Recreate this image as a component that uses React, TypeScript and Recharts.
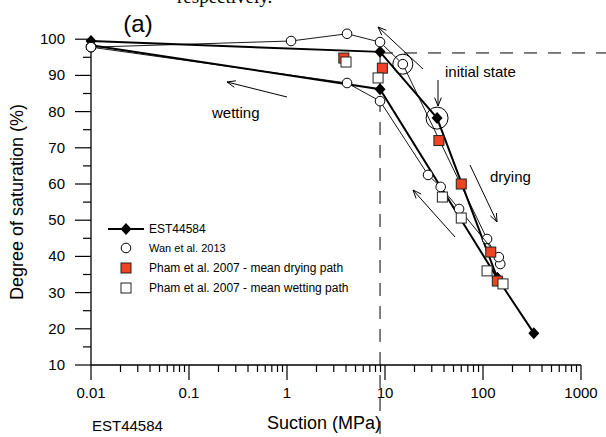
import React from 'react';
import { ComposedChart, Scatter, XAxis, YAxis, ReferenceLine, ReferenceDot } from 'recharts';

const W = 606;
const H = 437;
const FONT = '"Liberation Sans", Arial, sans-serif';
const RED = '#ee4422';

// suction (MPa) and degree of saturation (%)
const estDrySuction = [0.01, 8.9, 34, 140, 330];
const estDrySat = [99.5, 96.5, 78.2, 34, 18.8];
const estWetSuction = [140, 8.9, 0.01];
const estWetSat = [34, 86.2, 98.3];

const wanASuction = [0.01, 1.1, 4.1, 8.9, 15.2, 110, 150];
const wanASat = [97.8, 99.5, 101.5, 99.2, 93.1, 44.8, 37.9];
const wanBSuction = [0.01, 4.1, 8.9, 27.5, 37, 57, 145];
const wanBSat = [97.8, 87.9, 82.9, 62.5, 59.2, 53.1, 39.8];

const phamDrySuction = [3.8, 9.4, 35.5, 60, 120, 140];
const phamDrySat = [94.8, 92, 72, 60, 41.2, 33.2];
const phamWetSuction = [4.0, 8.5, 38.5, 60, 110, 160];
const phamWetSat = [93.7, 89.3, 56.4, 50.6, 36, 32.4];

const xMajor = [0.01, 0.1, 1, 10, 100, 1000];
const xLabels = ['0.01', '0.1', '1', '10', '100', '1000'];
const xMinor = [2, 3, 4, 5, 6, 7, 8, 9];
const yMajor = [10, 20, 30, 40, 50, 60, 70, 80, 90, 100];
const yMinor = [15, 25, 35, 45, 55, 65, 75, 85, 95];

const zip = (xs: number[], ys: number[]) => xs.map((x, i) => ({ x, y: ys[i] }));

const xTicks = xMajor
  .slice(0, -1)
  .flatMap((d) => [d, ...xMinor.map((m) => +(d * m).toPrecision(3))])
  .concat([1000]);
const yTicks = [...yMajor, ...yMinor].sort((a, b) => a - b);

const Diamond = ({ cx, cy }: any) => (
  <polygon points={`${cx},${cy - 6} ${cx + 5.5},${cy} ${cx},${cy + 6} ${cx - 5.5},${cy}`} fill="#000" />
);
const OpenCircle = ({ cx, cy }: any) => (
  <circle cx={cx} cy={cy} r={4.8} fill="#fff" stroke="#000" strokeWidth={1} />
);
const Square = ({ cx, cy, color }: any) => (
  <rect x={cx - 5} y={cy - 5} width={10} height={10} fill={color} stroke="#222" strokeWidth={1} />
);

const XTick = ({ x, y, payload }: any) => {
  const v = payload.value;
  const i = xMajor.findIndex((m) => Math.abs(m - v) / m < 1e-6);
  return (
    <g>
      <line x1={x} x2={x} y1={y} y2={y + (i >= 0 ? 15 : 7)} stroke="#000" strokeWidth={1.2} />
      {i >= 0 && (
        <text x={x} y={y + 33} textAnchor="middle" fontSize={15} fontFamily={FONT} fill="#000">
          {xLabels[i]}
        </text>
      )}
    </g>
  );
};

const YTick = ({ x, y, payload }: any) => {
  const major = yMajor.includes(payload.value);
  return (
    <g>
      <line x1={x - (major ? 16 : 8)} x2={x} y1={y} y2={y} stroke="#000" strokeWidth={1.2} />
      {major && (
        <text x={x - 26} y={y + 5} textAnchor="end" fontSize={15} fontFamily={FONT} fill="#000">
          {payload.value}
        </text>
      )}
    </g>
  );
};

const Arrow = ({ x1, y1, x2, y2 }: { x1: number; y1: number; x2: number; y2: number }) => {
  const a = Math.atan2(y2 - y1, x2 - x1);
  const L = 9;
  const s = 0.38;
  const p1 = `${x2 - L * Math.cos(a - s)},${y2 - L * Math.sin(a - s)}`;
  const p2 = `${x2 - L * Math.cos(a + s)},${y2 - L * Math.sin(a + s)}`;
  return (
    <g stroke="#000" strokeWidth={1} fill="none">
      <line x1={x1} y1={y1} x2={x2} y2={y2} />
      <polyline points={`${p1} ${x2},${y2} ${p2}`} />
    </g>
  );
};

export default function App() {
  const legendY = [229, 248, 268, 288];
  return (
    <div style={{ position: 'absolute', left: 0, top: 0, width: W, height: H, background: '#fff' }}>
      <ComposedChart width={W} height={H} margin={{ top: 3, right: 25, bottom: 0, left: 0 }}>
        <XAxis
          dataKey="x"
          type="number"
          scale="log"
          domain={[0.01, 1000]}
          ticks={xTicks}
          interval={0}
          tick={XTick}
          tickLine={false}
          tickSize={0}
          tickMargin={0}
          height={72}
          axisLine={{ stroke: '#000', strokeWidth: 1.3 }}
        />
        <YAxis
          dataKey="y"
          type="number"
          domain={[10, 110]}
          ticks={yTicks}
          interval={0}
          tick={YTick}
          tickLine={false}
          tickSize={0}
          tickMargin={0}
          axisLine={false}
          width={91}
        />
        <ReferenceLine
          segment={[{ x: 0.01, y: 10 }, { x: 0.01, y: 100 }]}
          stroke="#000"
          strokeWidth={1.3}
          ifOverflow="visible"
        />
        <ReferenceLine
          segment={[{ x: 8.9, y: 96.2 }, { x: 2000, y: 96.2 }]}
          stroke="#000"
          strokeWidth={1}
          strokeDasharray="13 11"
          ifOverflow="visible"
        />
        <ReferenceLine
          segment={[{ x: 8.9, y: 96.2 }, { x: 8.9, y: -10 }]}
          stroke="#000"
          strokeWidth={1}
          strokeDasharray="13 10"
          ifOverflow="visible"
        />
        <Scatter
          data={zip(estDrySuction, estDrySat)}
          line={{ stroke: '#000', strokeWidth: 2 }}
          lineType="joint"
          shape={Diamond}
          isAnimationActive={false}
        />
        <Scatter
          data={zip(estWetSuction, estWetSat)}
          line={{ stroke: '#000', strokeWidth: 2 }}
          lineType="joint"
          shape={Diamond}
          isAnimationActive={false}
        />
        <Scatter
          data={zip(wanASuction, wanASat)}
          line={{ stroke: '#000', strokeWidth: 0.9 }}
          lineType="joint"
          shape={OpenCircle}
          isAnimationActive={false}
        />
        <Scatter
          data={zip(wanBSuction, wanBSat)}
          line={{ stroke: '#000', strokeWidth: 0.9 }}
          lineType="joint"
          shape={OpenCircle}
          isAnimationActive={false}
        />
        <Scatter
          data={zip(phamDrySuction, phamDrySat)}
          shape={(p: any) => <Square {...p} color={RED} />}
          isAnimationActive={false}
        />
        <Scatter
          data={zip(phamWetSuction, phamWetSat)}
          shape={(p: any) => <Square {...p} color="#fff" />}
          isAnimationActive={false}
        />
        <ReferenceDot x={15.2} y={93.1} r={10} fill="none" stroke="#000" strokeWidth={1} />
        <ReferenceDot x={34} y={78.2} r={11} fill="none" stroke="#000" strokeWidth={1} />
      </ComposedChart>

      <svg width={W} height={H} style={{ position: 'absolute', left: 0, top: 0, pointerEvents: 'none' }}>
        <text x={177} y={3} fontFamily='"Liberation Serif", serif' fontSize={19}>respectively.</text>
        <text x={138} y={32} textAnchor="middle" fontFamily={FONT} fontSize={24}>(a)</text>
        <text x={445} y={77} fontFamily={FONT} fontSize={15}>initial state</text>
        <text x={212} y={118} fontFamily={FONT} fontSize={15}>wetting</text>
        <text x={490} y={182} fontFamily={FONT} fontSize={15}>drying</text>
        <text x={92} y={431} fontFamily={FONT} fontSize={15}>EST44584</text>
        <text x={267} y={429} fontFamily={FONT} fontSize={18}>Suction (MPa)</text>
        <text transform="translate(23,202) rotate(-90)" textAnchor="middle" fontFamily={FONT} fontSize={18}>
          Degree of saturation (%)
        </text>

        <Arrow x1={423} y1={69} x2={378} y2={27} />
        <Arrow x1={287} y1={97} x2={227} y2={82} />
        <Arrow x1={438} y1={80} x2={438} y2={106} />
        <Arrow x1={470} y1={165} x2={497} y2={222} />
        <Arrow x1={455} y1={237} x2={413} y2={190} />

        <line x1={108} x2={144} y1={legendY[0]} y2={legendY[0]} stroke="#000" strokeWidth={2} />
        <Diamond cx={126} cy={legendY[0]} />
        <OpenCircle cx={126} cy={legendY[1]} />
        <Square cx={126} cy={legendY[2]} color={RED} />
        <Square cx={126} cy={legendY[3]} color="#fff" />
        <g fontFamily={FONT} fontSize={12} fill="#000">
          <text x={149} y={legendY[0] + 4}>EST44584</text>
          <text x={149} y={legendY[1] + 4} fontSize={11}>Wan et al. 2013</text>
          <text x={149} y={legendY[2] + 4}>Pham et al. 2007 - mean drying path</text>
          <text x={149} y={legendY[3] + 4}>Pham et al. 2007 - mean wetting path</text>
        </g>
      </svg>
    </div>
  );
}
